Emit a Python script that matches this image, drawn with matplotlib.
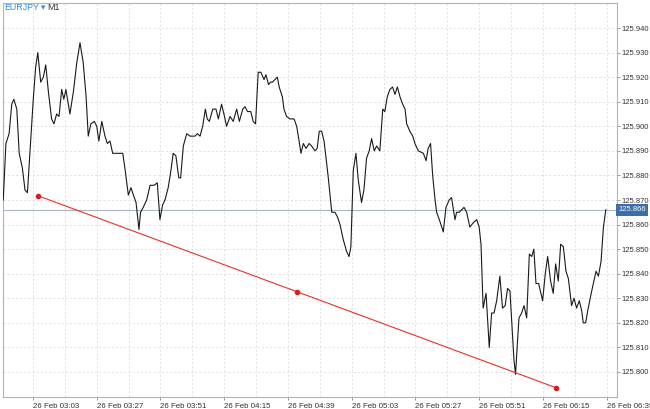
import matplotlib
matplotlib.use('Agg')
import matplotlib.pyplot as plt

plt.rcParams['font.family'] = ['Liberation Sans', 'DejaVu Sans']

# EURJPY M1 closes, minutes counted from 26 Feb 03:03
minutes = [-11.2, -10.2, -9.0, -8.0, -7.2, -6.1, -5.2, -4.0, -3.0, -2.1,
           -0.9, 0.1, 1.0, 1.8, 2.9, 3.9, 4.8, 5.8, 7.0, 7.9,
           8.9, 9.8, 10.8, 11.6, 12.4, 13.9, 15.2, 16.5, 17.7, 18.9,
           20.0, 20.8, 21.8, 23.1, 24.0, 24.8, 25.9, 27.1, 28.0, 29.0,
           30.0, 31.5, 33.8, 34.6, 35.9, 36.9, 37.8, 38.8, 39.9, 40.5,
           41.5, 42.8, 44.1, 45.6, 46.8, 47.8, 48.8, 49.7, 50.9, 51.8,
           52.8, 53.8, 54.9, 55.6, 56.6, 57.9, 59.1, 61.0, 61.9, 62.9,
           63.9, 64.9, 65.6, 66.4, 67.7, 68.9, 69.8, 71.0, 71.9, 72.9,
           74.2, 75.4, 76.7, 77.7, 79.0, 79.8, 80.8, 82.0, 82.9, 83.8,
           84.8, 85.8, 87.0, 87.7, 88.7, 89.5, 90.2, 91.1, 92.0, 92.7,
           93.9, 94.5, 95.5, 96.8, 98.3, 99.3, 100.2, 100.9, 101.8, 102.8,
           104.0, 104.9, 106.2, 107.0, 107.8, 108.7, 109.6, 111.2, 112.5, 113.7,
           114.7, 115.6, 116.8, 118.1, 119.0, 119.7, 120.6, 121.6, 122.5, 123.7,
           124.6, 125.6, 126.6, 127.5, 128.5, 129.4, 130.6, 131.7, 132.5, 133.4,
           134.4, 135.4, 136.3, 137.2, 138.2, 139.2, 140.1, 140.7, 141.9, 143.0,
           143.8, 145.1, 147.0, 148.0, 148.8, 149.7, 150.5, 151.4, 152.0, 153.0,
           154.5, 155.5, 156.7, 157.6, 158.9, 159.5, 160.5, 161.4, 162.3, 163.3,
           164.5, 166.0, 167.1, 168.0, 168.7, 169.5, 170.6, 171.2, 171.8, 172.7,
           173.6, 174.6, 175.8, 176.8, 177.8, 178.7, 179.6, 180.2, 181.1, 181.7,
           182.3, 183.0, 184.0, 184.9, 185.9, 186.9, 187.8, 188.6, 189.4, 190.4,
           191.9, 192.9, 193.8, 194.9, 195.9, 196.8, 197.8, 198.7, 199.7, 200.7,
           201.6, 202.8, 203.7, 204.7, 205.7, 206.6, 207.2, 208.1, 208.9, 210.0,
           211.0, 212.0, 212.9, 213.9, 214.8, 215.7]

prices = [125.870, 125.893, 125.897, 125.909, 125.911, 125.907, 125.889, 125.883, 125.874, 125.873,
          125.894, 125.911, 125.924, 125.930, 125.918, 125.920, 125.925, 125.914, 125.903, 125.901,
          125.905, 125.904, 125.915, 125.911, 125.915, 125.905, 125.914, 125.926, 125.934, 125.926,
          125.912, 125.896, 125.901, 125.902, 125.900, 125.894, 125.902, 125.896, 125.893, 125.894,
          125.889, 125.889, 125.889, 125.883, 125.872, 125.875, 125.872, 125.869, 125.858, 125.865,
          125.867, 125.870, 125.876, 125.876, 125.877, 125.862, 125.868, 125.870, 125.875, 125.881,
          125.889, 125.888, 125.879, 125.879, 125.892, 125.897, 125.896, 125.896, 125.897, 125.896,
          125.900, 125.907, 125.903, 125.902, 125.907, 125.907, 125.903, 125.909, 125.905, 125.900,
          125.904, 125.902, 125.907, 125.902, 125.907, 125.908, 125.906, 125.906, 125.902, 125.901,
          125.922, 125.922, 125.919, 125.921, 125.917, 125.918, 125.918, 125.919, 125.920, 125.916,
          125.912, 125.907, 125.904, 125.903, 125.903, 125.900, 125.894, 125.889, 125.893, 125.891,
          125.893, 125.892, 125.890, 125.891, 125.898, 125.898, 125.894, 125.879, 125.865, 125.865,
          125.863, 125.860, 125.854, 125.849, 125.847, 125.851, 125.882, 125.889, 125.878, 125.869,
          125.874, 125.887, 125.890, 125.895, 125.890, 125.892, 125.890, 125.907, 125.906, 125.912,
          125.915, 125.916, 125.913, 125.916, 125.912, 125.909, 125.907, 125.901, 125.898, 125.896,
          125.893, 125.890, 125.889, 125.886, 125.891, 125.893, 125.880, 125.870, 125.865, 125.862,
          125.857, 125.867, 125.870, 125.871, 125.862, 125.865, 125.865, 125.866, 125.867, 125.865,
          125.859, 125.861, 125.862, 125.859, 125.852, 125.826, 125.832, 125.821, 125.810, 125.824,
          125.824, 125.829, 125.839, 125.826, 125.827, 125.834, 125.833, 125.822, 125.805, 125.799,
          125.810, 125.822, 125.824, 125.827, 125.822, 125.848, 125.847, 125.850, 125.836, 125.836,
          125.829, 125.840, 125.847, 125.837, 125.832, 125.844, 125.837, 125.852, 125.851, 125.841,
          125.838, 125.827, 125.830, 125.826, 125.829, 125.825, 125.820, 125.820, 125.825, 125.831,
          125.836, 125.841, 125.839, 125.845, 125.859, 125.866]

# trend line anchors (start, middle, end)
trendMinutes = [1.7, 99.3, 196.9]
trendPrices = [125.8718, 125.8327, 125.7936]

lastPrice = 125.866

xTickPos = [0, 24, 48, 72, 96, 120, 144, 168, 192, 216]
xTickLabels = ['26 Feb 03:03', '26 Feb 03:27', '26 Feb 03:51', '26 Feb 04:15',
               '26 Feb 04:39', '26 Feb 05:03', '26 Feb 05:27', '26 Feb 05:51',
               '26 Feb 06:15', '26 Feb 06:39']
yTicks = [125.800, 125.810, 125.820, 125.830, 125.840, 125.850, 125.860,
          125.870, 125.880, 125.890, 125.900, 125.910, 125.920, 125.930, 125.940]

fig = plt.figure(figsize=(6.5, 4.09), dpi=100)
ax = fig.add_axes([0.0046, 0.0293, 0.9446, 0.9634])

# grid
for xg in range(0, 217, 12):
    ax.axvline(xg, color='#dcdcdc', lw=0.6, ls=(0, (2.5, 2.5)), zorder=0)
for yg in yTicks:
    ax.axhline(yg, color='#dcdcdc', lw=0.6, ls=(0, (2.5, 2.5)), zorder=0)

ax.axhline(lastPrice, color='#aab6c4', lw=0.8, zorder=1)

ax.plot(minutes, prices, color='#1a1a1a', lw=0.8, zorder=3)

ax.plot(trendMinutes, trendPrices, color='#e8302c', lw=0.8, zorder=4)
ax.plot(trendMinutes, trendPrices, 'o', color='#d81e1e', ms=3, zorder=5)

ax.set_xlim(-11.3, 219.9)
ax.set_ylim(125.7898, 125.9502)

ax.yaxis.tick_right()
ax.set_yticks(yTicks)
ax.set_yticklabels(['%.3f' % v for v in yTicks])
ax.set_xticks(xTickPos)
ax.set_xticklabels(xTickLabels, ha='left')

ax.tick_params(axis='both', length=2.5, width=0.6)
ax.tick_params(axis='x', labelsize=5.7, colors='#888888', labelcolor='#333333', pad=2)
ax.tick_params(axis='y', labelsize=5.5, colors='#888888', labelcolor='#333333', pad=1)

for sp in ax.spines.values():
    sp.set_color('#b4b4b4')
    sp.set_linewidth(0.8)

# current price tag on the price scale
ax.text(1.002, lastPrice, '%.3f' % lastPrice, transform=ax.get_yaxis_transform(),
        fontsize=5.5, color='white', va='center', ha='left',
        bbox=dict(boxstyle='square,pad=0.3', fc='#3d6ea8', ec='none'))

# symbol caption
fig.text(0.006, 0.981, 'EURJPY', fontsize=6.4, color='#2f8be0', va='center')
fig.text(0.063, 0.981, '\u25be', fontsize=6.2, color='#2f8be0',
         va='center', family='DejaVu Sans')
fig.text(0.073, 0.981, 'M1', fontsize=6.4, color='#333333', va='center')

fig.savefig('out.png', dpi=100)
